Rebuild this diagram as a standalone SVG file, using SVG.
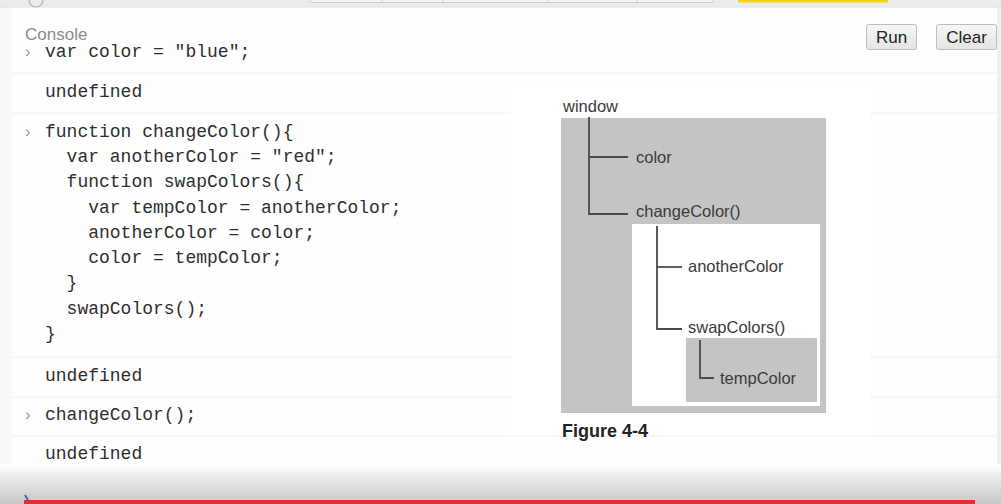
<svg xmlns="http://www.w3.org/2000/svg" width="1001" height="504" viewBox="0 0 1001 504">
  <defs>
    <linearGradient id="btn" x1="0" y1="0" x2="0" y2="1">
      <stop offset="0" stop-color="#f7f7f7"/>
      <stop offset="1" stop-color="#e4e4e4"/>
    </linearGradient>
    <linearGradient id="fade" x1="0" y1="0" x2="0" y2="1">
      <stop offset="0" stop-color="#fefefe"/>
      <stop offset="1" stop-color="#c6c6c6"/>
    </linearGradient>
    <style>
      .code { font-family: "Liberation Mono", "DejaVu Sans Mono", monospace; font-size: 18px; fill: #2e2e2e; }
      .prompt { font-family: "Liberation Sans", Arial, sans-serif; font-size: 17px; fill: #9a9a9a; }
      .sep { stroke: #efefef; stroke-width: 1.2; }
      .btntxt { font-family: "Liberation Sans", Arial, sans-serif; font-size: 17px; fill: #222; }
      .fig { font-family: "Liberation Sans", Arial, sans-serif; font-size: 16.5px; fill: #3a3a3a; }
      .tree { stroke: #4a4a4a; stroke-width: 1.8; fill: none; }
    </style>
  </defs>

  <!-- page background -->
  <rect x="0" y="0" width="1001" height="504" fill="#fefefe"/>
  <rect x="0" y="0" width="12" height="504" fill="#f8f8f8"/>
  <rect x="997" y="0" width="4" height="504" fill="#f0f0f0"/>

  <!-- top toolbar strip -->
  <rect x="0" y="0" width="1001" height="7" fill="#ececec"/>
  <line x1="0" y1="7" x2="1001" y2="7" stroke="#e0e0e0" stroke-width="1"/>
  <path d="M310 0 V1.5 Q310 2.5 312 2.5 H711 Q713 2.5 713 1.5 V0" fill="#f4f4f4" stroke="#cfcfcf" stroke-width="1"/>
  <line x1="382" y1="0" x2="382" y2="2.5" stroke="#cfcfcf"/>
  <line x1="443" y1="0" x2="443" y2="2.5" stroke="#cfcfcf"/>
  <line x1="548" y1="0" x2="548" y2="2.5" stroke="#cfcfcf"/>
  <line x1="637" y1="0" x2="637" y2="2.5" stroke="#cfcfcf"/>
  <rect x="738" y="0" width="150" height="2.5" fill="#f5d21c"/>
  <path d="M29 0 A7 7 0 0 0 43 0" fill="none" stroke="#b0b0b0" stroke-width="1.2"/>

  <!-- console header -->
  <text x="25" y="40" font-family="Liberation Sans, Arial, sans-serif" font-size="17" fill="#8a8a8a">Console</text>

  <g id="btn-run">
    <rect x="866.5" y="24.5" width="50" height="25" rx="2" fill="url(#btn)" stroke="#bdbdbd"/>
    <text class="btntxt" x="891.5" y="43" text-anchor="middle">Run</text>
  </g>
  <g id="btn-clear">
    <rect x="936.5" y="24.5" width="60" height="25" rx="2" fill="url(#btn)" stroke="#bdbdbd"/>
    <text class="btntxt" x="966.5" y="43" text-anchor="middle">Clear</text>
  </g>

  <!-- separators -->
  <line class="sep" x1="12" y1="73" x2="997" y2="73"/>
  <line class="sep" x1="12" y1="113" x2="997" y2="113"/>
  <line class="sep" x1="12" y1="357" x2="997" y2="357"/>
  <line class="sep" x1="12" y1="397" x2="997" y2="397"/>
  <line class="sep" x1="12" y1="436" x2="997" y2="436"/>

  <!-- console entries -->
  <g id="entry1">
    <text class="prompt" x="25" y="57">›</text>
    <text class="code" x="45" y="57" xml:space="preserve">var color = "blue";</text>
  </g>
  <g id="result1">
    <text class="code" x="45" y="97">undefined</text>
  </g>
  <g id="entry2">
    <text class="prompt" x="25" y="137">›</text>
    <text class="code" x="45" y="137" xml:space="preserve">function changeColor(){</text>
    <text class="code" x="66.6" y="162" xml:space="preserve">var anotherColor = "red";</text>
    <text class="code" x="66.6" y="187" xml:space="preserve">function swapColors(){</text>
    <text class="code" x="88.2" y="213" xml:space="preserve">var tempColor = anotherColor;</text>
    <text class="code" x="88.2" y="238" xml:space="preserve">anotherColor = color;</text>
    <text class="code" x="88.2" y="263" xml:space="preserve">color = tempColor;</text>
    <text class="code" x="66.6" y="288">}</text>
    <text class="code" x="66.6" y="314">swapColors();</text>
    <text class="code" x="45" y="339">}</text>
  </g>
  <g id="result2">
    <text class="code" x="45" y="381">undefined</text>
  </g>
  <g id="entry3">
    <text class="prompt" x="25" y="420">›</text>
    <text class="code" x="45" y="420">changeColor();</text>
  </g>
  <g id="result3">
    <text class="code" x="45" y="459">undefined</text>
  </g>

  <!-- figure background (image area) -->
  <rect x="511" y="88" width="359" height="347" fill="#ffffff"/>

  <!-- figure -->
  <g id="scope-window">
    <text class="fig" x="563" y="112">window</text>
    <rect x="561" y="118" width="265" height="295" fill="#c4c4c4"/>
  </g>
  <g id="node-color">
    <text class="fig" x="636" y="163">color</text>
  </g>
  <g id="scope-changeColor">
    <text class="fig" x="636" y="217">changeColor()</text>
    <rect x="632" y="224" width="188" height="182" fill="#ffffff"/>
  </g>
  <g id="node-anotherColor">
    <text class="fig" x="688" y="272">anotherColor</text>
  </g>
  <g id="scope-swapColors">
    <text class="fig" x="688" y="333">swapColors()</text>
    <rect x="686" y="338" width="131" height="64" fill="#c4c4c4"/>
  </g>
  <g id="node-tempColor">
    <text class="fig" x="720" y="384">tempColor</text>
  </g>

  <g id="connectors">
    <path class="tree" d="M589 117 V214 H628"/>
    <path class="tree" d="M589 157 H628"/>
    <path class="tree" d="M657 226 V329 H682"/>
    <path class="tree" d="M657 267 H682"/>
    <path class="tree" d="M700 340 V378 H714"/>
  </g>

  <text x="562" y="437" font-family="Liberation Sans, Arial, sans-serif" font-size="18" font-weight="bold" fill="#222">Figure 4-4</text>

  <!-- bottom fade and red bar -->
  <rect x="0" y="464" width="1001" height="40" fill="url(#fade)"/>
  <path d="M25 495 L28 500" stroke="#3b5ea8" stroke-width="1.8" fill="none"/>
  <rect x="24" y="500" width="951" height="4" fill="#e0312b"/>
</svg>
